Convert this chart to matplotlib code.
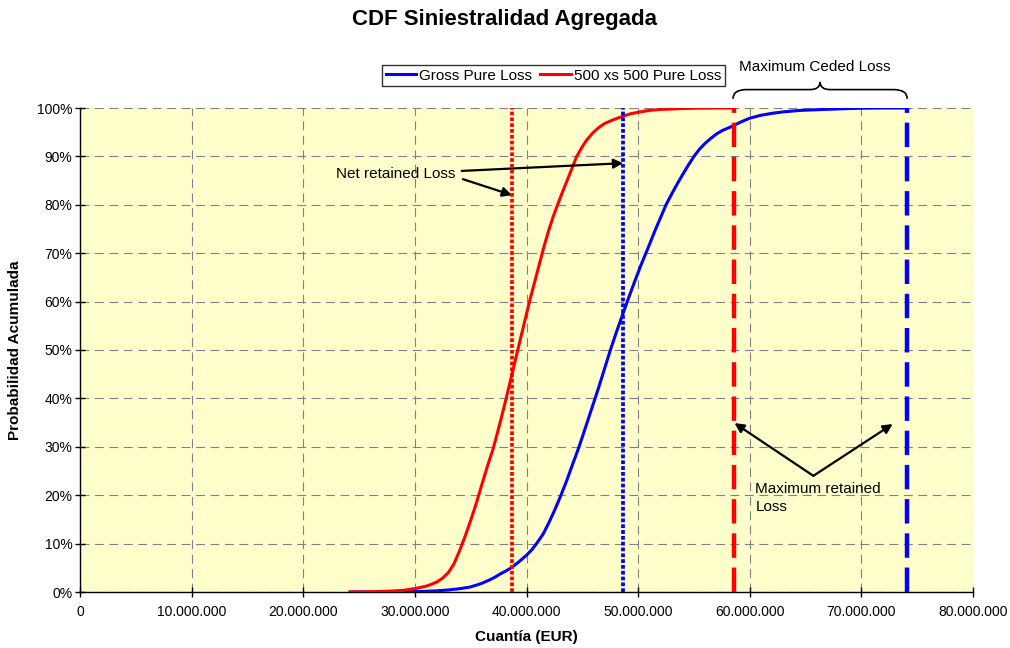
import matplotlib
matplotlib.use("Agg")
import matplotlib.pyplot as plt
from matplotlib.ticker import FuncFormatter, MultipleLocator
from matplotlib.path import Path
from matplotlib.patches import PathPatch

plt.rcParams['font.family'] = ['Liberation Sans', 'DejaVu Sans']

# ---- data (amounts in millions of EUR, probabilities in %) ----
gross_x = [24.2, 28, 30, 31, 32, 33, 34, 34.9, 35.5, 36, 36.7, 37.2, 37.7, 38.2, 38.7, 39.3,
           40, 40.5, 40.9, 41.5, 42, 42.5, 43, 43.6, 44.1, 44.6, 45, 45.5, 46, 46.5, 47,
           47.5, 48.1, 48.7, 49.2, 49.7, 50.3, 51, 51.5, 52, 52.5, 53, 53.5, 54, 54.5,
           55, 55.5, 56, 56.5, 57, 57.5, 58.3, 59.1, 60, 61, 62, 63, 64.5, 66.6, 68.5,
           70, 72, 74.05]
gross_p = [0, 0.02, 0.08, 0.15, 0.25, 0.42, 0.68, 1.0, 1.4, 1.8, 2.5, 3.1, 3.8, 4.4, 5.1, 6.2,
           7.6, 8.8, 10, 12, 14.3, 16.8, 19.5, 23, 26.2, 29.3, 32, 35.5, 39, 42.5, 46.2,
           49.9, 54.0, 57.9, 61.1, 64.2, 67.8, 71.7, 74.6, 77.3, 80, 82.2, 84.3, 86.3, 88.2,
           90, 91.5, 92.7, 93.7, 94.6, 95.3, 96.1, 97, 97.9, 98.5, 98.9, 99.2, 99.5, 99.7, 99.85,
           99.95, 100, 100]

xl_x = [24.2, 26, 28, 29, 30, 30.5, 31, 31.5, 32, 32.5, 33, 33.5, 34, 34.5, 35, 35.5, 36,
        36.5, 37, 37.5, 38, 38.7, 39.5, 40.3, 41, 41.5, 42, 42.4, 42.8, 43.2, 43.6, 44, 44.5, 45,
        45.4, 46, 46.5, 47, 47.7, 48.4, 49.3, 50.2, 51, 52, 53.5, 55, 56.5, 58.63]
xl_p = [0, 0.05, 0.2, 0.35, 0.7, 0.95, 1.2, 1.6, 2.1, 2.9, 4.0, 5.8, 8.5, 11.5, 14.8, 18.3, 22.2,
        26, 29.5, 33.8, 38.3, 45, 52.7, 60.3, 66.4, 70.8, 74.8, 77.6, 80.1, 82.5, 84.8, 87.1, 90, 92,
        93.4, 95, 96, 96.8, 97.5, 98.1, 98.8, 99.2, 99.5, 99.7, 99.85, 99.95, 100, 100]

net_retained_xl = 38.7      # red dotted
net_retained_gross = 48.66  # blue dotted
max_retained_xl = 58.63     # red dashed
max_retained_gross = 74.05  # blue dashed

series_labels = ["Gross Pure Loss", "500 xs 500 Pure Loss"]
M = 1e6

fig = plt.figure(figsize=(10.10, 6.48), dpi=100)
ax = fig.add_axes([80/1010, 56/648, 893/1010, 484/648])
ax.set_facecolor('#FFFFCC')

ax.plot([v*M for v in gross_x], [p/100 for p in gross_p], color='#0000FF', lw=2.2,
        label=series_labels[0], zorder=3, solid_joinstyle='round')
ax.plot([v*M for v in xl_x], [p/100 for p in xl_p], color='#FF0000', lw=2.2,
        label=series_labels[1], zorder=3, solid_joinstyle='round')

# vertical markers
ax.plot([net_retained_xl*M]*2, [0, 1], color='#FF0000', lw=2.7, ls=(0, (1.0, 0.55)), zorder=4)
ax.plot([net_retained_gross*M]*2, [0, 1], color='#0000FF', lw=2.7, ls=(0, (1.0, 0.55)), zorder=4)
ax.plot([max_retained_xl*M]*2, [0, 1], color='#FF0000', lw=3.2, ls=(0, (5.5, 2.2)), zorder=4)
ax.plot([max_retained_gross*M]*2, [0, 1], color='#0000FF', lw=3.2, ls=(0, (5.5, 2.2)), zorder=4)

ax.set_xlim(0, 80*M)
ax.set_ylim(0, 1)
ax.xaxis.set_major_locator(MultipleLocator(10*M))
ax.yaxis.set_major_locator(MultipleLocator(0.1))
ax.xaxis.set_major_formatter(FuncFormatter(lambda v, p: f"{int(round(v)):,}".replace(",", ".")))
ax.yaxis.set_major_formatter(FuncFormatter(lambda v, p: f"{int(round(v*100))}%"))
ax.grid(True, color='#7f7f8f', lw=0.8, ls=(0, (8, 5)))
ax.set_axisbelow(True)
for s in ['top', 'right']:
    ax.spines[s].set_visible(False)
for s in ['left', 'bottom']:
    ax.spines[s].set_linewidth(1.0)
ax.tick_params(axis='both', direction='inout', length=7, width=1, labelsize=10, colors='black')
ax.tick_params(axis='x', pad=6)
ax.tick_params(axis='y', pad=2)

ax.set_xlabel("Cuantía (EUR)", fontsize=11, fontweight='bold', labelpad=8)
ax.set_ylabel("Probabilidad Acumulada", fontsize=11, fontweight='bold', labelpad=11)
fig.suptitle("CDF Siniestralidad Agregada", fontsize=16, fontweight='bold', x=504/1010, y=1-20/648,
             va='center')

# annotations
arrow = dict(arrowstyle='-|>', lw=1.6, color='black', mutation_scale=14, shrinkA=0, shrinkB=0)
ax.text(22.9*M, 0.864, "Net retained Loss", fontsize=11, ha='left', va='center')
ax.annotate("", xy=(net_retained_gross*M, 0.886), xytext=(34.2*M, 0.870), arrowprops=arrow)
ax.annotate("", xy=(net_retained_xl*M, 0.820), xytext=(34.3*M, 0.853), arrowprops=arrow)

ax.text(60.5*M, 0.194, "Maximum retained\nLoss", fontsize=11, ha='left', va='center', linespacing=1.35)
ax.annotate("", xy=(max_retained_xl*M, 0.349), xytext=(65.7*M, 0.240), arrowprops=arrow)
ax.annotate("", xy=(72.8*M, 0.347), xytext=(65.7*M, 0.240), arrowprops=arrow)

ax.text(65.8*M, 1.085, "Maximum Ceded Loss", fontsize=11, ha='center', va='center', clip_on=False)

# curly brace
x0, x1, xm = 58.5*M, 74.1*M, 66.3*M
yt, yf, yp = 1.019, 1.038, 1.054
dx = 1.2*M
dm = 0.9*M
verts = [(x0, yt), (x0, yf), (x0+dx, yf), (xm-dm, yf), (xm, yf), (xm, yp),
         (xm, yf), (xm+dm, yf), (x1-dx, yf), (x1, yf), (x1, yt)]
codes = [Path.MOVETO, Path.CURVE3, Path.CURVE3, Path.LINETO, Path.CURVE3, Path.CURVE3,
         Path.CURVE3, Path.CURVE3, Path.LINETO, Path.CURVE3, Path.CURVE3]
ax.add_patch(PathPatch(Path(verts, codes), fill=False, lw=1.2, color='black', clip_on=False))

leg = ax.legend(loc='center', bbox_to_anchor=(553.5/1010, 1-75.5/648), bbox_transform=fig.transFigure,
                ncol=2, fontsize=11, frameon=True, fancybox=False, handlelength=2.0,
                handletextpad=0.2, columnspacing=0.5, borderpad=0.25, borderaxespad=0)
leg.get_frame().set_edgecolor('black')
leg.get_frame().set_linewidth(1.0)

fig.savefig("out.png", dpi=100)
